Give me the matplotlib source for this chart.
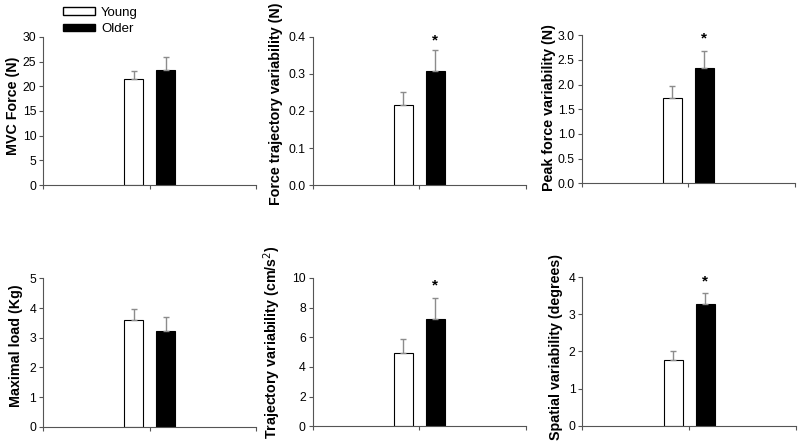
import matplotlib.pyplot as plt
from matplotlib.patches import Patch

plt.rcParams['font.family'] = ['Liberation Sans', 'DejaVu Sans']

# one entry per panel: young / older means and upper error lengths
labels = ['MVC Force (N)', 'Force trajectory variability (N)', 'Peak force variability (N)',
          'Maximal load (Kg)', 'Trajectory variability (cm/s$^2$)', 'Spatial variability (degrees)']
young = [21.4, 0.217, 1.72, 3.60, 4.97, 1.78]
young_err = [1.7, 0.034, 0.24, 0.37, 0.93, 0.23]
older = [23.4, 0.307, 2.33, 3.23, 7.20, 3.27]
older_err = [2.5, 0.057, 0.35, 0.47, 1.45, 0.29]
ymax = [30, 0.4, 3.0, 5, 10, 4]
ystep = [5, 0.1, 0.5, 1, 2, 1]
yfmt = ['%d', '%.1f', '%.1f', '%d', '%d', '%d']
signif = [False, True, True, False, True, True]
star_y = [None, 0.39, 2.93, None, 9.5, 3.87]

positions = [
    [0.054, 0.5833, 0.266, 0.3334],
    [0.391, 0.5833, 0.266, 0.3334],
    [0.727, 0.587, 0.267, 0.334],
    [0.054, 0.039, 0.266, 0.334],
    [0.391, 0.040, 0.266, 0.334],
    [0.728, 0.041, 0.267, 0.335],
]
label_xy = [(-0.11, 0.537), (-0.14, 0.55), (-0.12, 0.51),
            (-0.095, 0.548), (-0.14, 0.565), (-0.09, 0.53)]

fig = plt.figure(figsize=(8, 4.44), dpi=100)
axis_col = '#555555'

for i in range(6):
    ax = fig.add_axes(positions[i])
    ax.bar(0.85, young[i], width=0.18, color='white', edgecolor='black', linewidth=0.8)
    ax.bar(1.15, older[i], width=0.18, color='black', edgecolor='black', linewidth=0.8)
    ax.errorbar([0.85, 1.15], [young[i], older[i]], yerr=[[0, 0], [young_err[i], older_err[i]]],
                fmt='none', ecolor='#8c8c8c', elinewidth=1, capsize=2.5, capthick=1)
    if signif[i]:
        ax.text(1.15, star_y[i], '*', ha='center', va='center', fontsize=11, fontweight='bold')
    ax.set_xlim(0, 2)
    ax.set_ylim(0, ymax[i])
    n = int(round(ymax[i] / ystep[i]))
    ticks = [k * ystep[i] for k in range(n + 1)]
    ax.set_yticks(ticks)
    ax.set_yticklabels([yfmt[i] % t for t in ticks])
    ax.set_xticks([0, 1, 2])
    ax.set_xticklabels([])
    for s in ['top', 'right']:
        ax.spines[s].set_visible(False)
    for s in ['left', 'bottom']:
        ax.spines[s].set_color(axis_col)
        ax.spines[s].set_linewidth(0.8)
    ax.tick_params(direction='out', length=3, width=0.8, color=axis_col, labelsize=8.8, pad=2)
    ax.set_ylabel(labels[i], fontsize=10.3, fontweight='bold')
    ax.yaxis.set_label_coords(*label_xy[i])

handles = [Patch(facecolor='white', edgecolor='black', label='Young'),
           Patch(facecolor='black', edgecolor='black', label='Older')]
fig.legend(handles=handles, loc='upper left', bbox_to_anchor=(0.072, 0.997), frameon=False,
           fontsize=9.5, handlelength=2.4, handleheight=0.5, handletextpad=0.5,
           labelspacing=0.35, borderaxespad=0)

fig.savefig('out.png', dpi=100)
